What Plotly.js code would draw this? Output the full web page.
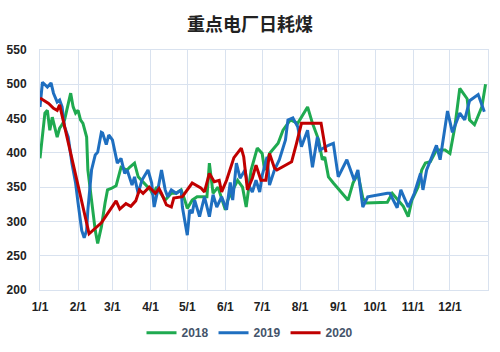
<!DOCTYPE html>
<html>
<head>
<meta charset="utf-8">
<script src="https://cdn.plot.ly/plotly-3.0.1.min.js"></script>
<style>html,body{margin:0;padding:0;background:#fff;}#chart{width:500px;height:352px;}</style>
</head>
<body>
<div id="chart"></div>
<script>
// Dates are month-day; plotted on a common dummy year.
const dates2018 = ["01-01","01-05","01-07","01-09","01-11","01-15","01-17","01-19","01-21","01-24","01-26","01-28","01-30","02-01","02-03","02-05","02-08","02-09","02-12","02-15","02-17","02-20","02-23","02-25","02-28","03-04","03-08","03-13","03-15","03-19","03-22","03-27","04-01","04-03","04-06","04-13","04-18","04-22","04-26","04-29","05-01","05-05","05-09","05-17","05-19","05-22","05-26","06-01","06-03","06-11","06-15","06-18","06-22","06-27","07-01","07-03","07-07","07-14","07-18","07-24","07-30","08-07","08-11","08-16","08-19","08-21","08-24","08-28","09-06","09-09","09-13","09-17","09-21","09-24","10-11","10-15","10-24","10-28","10-31","11-05","11-08","11-11","11-15","11-20","11-27","12-01","12-05","12-09","12-15","12-17","12-21","12-25","12-27","12-30"];
const values2018 = [392,458,462,433,452,423,436,441,448,472,487,467,458,462,448,443,423,375,327,287,268,292,327,346,348,352,379,375,379,385,365,356,346,339,350,331,341,341,346,331,319,331,336,336,385,341,350,317,331,360,350,321,375,407,399,375,399,414,433,448,443,467,443,419,390,394,365,356,336,331,356,370,334,327,328,341,322,307,331,350,375,385,387,404,404,399,438,494,479,448,441,458,467,500];

const dates2019 = ["01-01","01-03","01-07","01-10","01-12","01-15","01-17","01-19","01-21","01-24","01-27","01-30","02-01","02-04","02-06","02-08","02-09","02-12","02-15","02-17","02-20","02-21","02-24","02-26","03-01","03-03","03-05","03-08","03-11","03-13","03-17","03-19","03-22","03-25","03-30","04-02","04-04","04-07","04-10","04-13","04-15","04-18","04-22","04-26","04-27","05-01","05-03","05-05","05-07","05-11","05-15","05-19","05-22","05-25","05-29","06-02","06-05","06-07","06-10","06-13","06-17","06-19","06-23","06-26","06-29","07-01","07-05","07-07","07-11","07-15","07-20","07-22","07-26","07-30","08-02","08-07","08-09","08-11","08-15","08-17","08-24","08-28","09-01","09-08","09-14","09-17","09-21","09-25","10-11","10-13","10-19","10-22","10-28","11-02","11-07","11-09","11-12","11-20","11-23","11-29","12-03","12-09","12-13","12-17","12-24","12-29"];
const values2019 = [467,503,496,502,487,474,477,467,438,423,385,356,327,287,276,287,317,375,397,401,430,429,412,426,419,400,385,392,370,375,353,365,341,360,375,356,321,346,375,346,336,346,341,346,321,280,317,312,331,307,336,307,339,321,336,317,357,331,385,363,375,356,343,360,343,367,394,353,375,390,419,448,451,438,409,433,404,379,423,404,411,414,365,390,360,375,321,336,341,341,320,346,321,341,370,346,375,411,390,461,430,458,448,476,485,460];

const dates2020 = ["01-01","01-04","01-08","01-12","01-15","01-17","02-10","02-20","03-04","03-07","03-12","03-16","03-20","03-23","03-26","03-31","04-05","04-08","04-10","04-14","04-18","04-20","04-27","05-05","05-12","05-15","05-19","05-23","05-27","05-29","06-02","06-08","06-14","06-16","06-19","06-23","06-26","06-30","07-04","07-07","07-11","07-13","07-25","07-29","08-02","08-18","08-22"];
const values2020 = [480,476,472,465,462,470,282,298,330,318,326,322,330,346,341,350,341,348,341,324,321,334,336,356,349,343,370,358,360,343,360,393,407,394,346,363,382,360,360,399,378,375,387,414,443,443,401];

const seriesNames = ["2018","2019","2020"];
const seriesColors = ["#1faa50","#1f6fc0","#c00000"];
const monthTicks = ["01-01","02-01","03-01","04-01","05-01","06-01","07-01","08-01","09-01","10-01","11-01","12-01"];
const monthLabels = ["1/1","2/1","3/1","4/1","5/1","6/1","7/1","8/1","9/1","10/1","11/1","12/1"];

const Y = "2021-";
const toDate = arr => arr.map(d => Y + d);
const allDates = [dates2018, dates2019, dates2020];
const allValues = [values2018, values2019, values2020];

const traces = allDates.map((d, i) => ({
  type: "scatter", mode: "lines",
  x: toDate(d), y: allValues[i],
  name: seriesNames[i],
  line: {color: seriesColors[i], width: 3}
}));

const gridColor = "#d9e2ef";
const layout = {
  width: 500, height: 352,
  margin: {l: 40, r: 12, t: 50, b: 62},
  paper_bgcolor: "#fff", plot_bgcolor: "#fff",
  title: {text: "重点电厂日耗煤", x: 0.5, xref: "container", y: 0.93, yref: "container", yanchor: "middle",
    font: {family: "Noto Sans CJK SC", size: 18, color: "#222", weight: "bold"}},
  showlegend: true,
  legend: {orientation: "h", x: 0.5, xanchor: "center", xref: "container", y: 0.055, yref: "container", yanchor: "middle",
    font: {family: "Liberation Sans, Arial", size: 12, color: "#44546a", weight: "bold"}, itemwidth: 30},
  xaxis: {
    type: "date", range: [Y + "01-01", "2022-01-01"],
    tickmode: "array", tickvals: toDate(monthTicks), ticktext: monthLabels,
    showgrid: true, gridcolor: gridColor, gridwidth: 1,
    showline: true, linecolor: gridColor, mirror: true, zeroline: false,
    ticks: "", ticklabelstandoff: 6,
    tickfont: {family: "Liberation Sans, Arial", size: 12, color: "#222", weight: "bold"},
    fixedrange: true
  },
  yaxis: {
    range: [200, 550], dtick: 50, tick0: 200,
    showgrid: true, gridcolor: gridColor, gridwidth: 1,
    showline: true, linecolor: gridColor, mirror: true, zeroline: false,
    ticks: "", ticklabelstandoff: 10,
    tickfont: {family: "Liberation Sans, Arial", size: 12, color: "#222", weight: "bold"},
    fixedrange: true
  }
};

Plotly.newPlot("chart", traces, layout, {displayModeBar: false, staticPlot: true});
</script>
</body>
</html>
